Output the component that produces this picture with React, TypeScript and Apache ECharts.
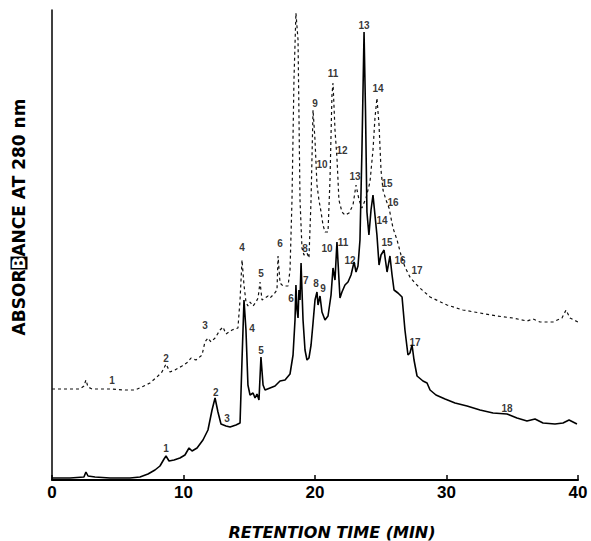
import React, { useEffect, useRef } from "react";
import * as echarts from "echarts";

// Solid trace: [retention time (min), absorbance (arbitrary units)]
const solidTrace: number[][] = [
  [0, 2], [1.37, 2], [2.43, 3], [2.58, 8], [2.74, 4], [3.27, 3], [4.41, 2], [5.93, 2],
  [6.69, 3], [7.3, 6], [7.83, 10], [8.21, 14], [8.52, 21], [8.67, 24], [8.9, 19], [9.28, 20],
  [9.73, 22], [10.11, 25], [10.42, 32], [10.65, 29], [11.03, 32], [11.48, 40], [11.86, 50],
  [12.17, 70], [12.4, 82], [12.62, 68], [12.85, 56], [13.23, 54], [13.54, 53], [13.99, 55],
  [14.3, 57], [14.45, 120], [14.6, 180], [14.75, 150], [14.9, 95], [15.06, 85], [15.29, 87],
  [15.44, 82], [15.59, 86], [15.74, 80], [15.89, 123], [16.05, 95], [16.2, 90], [16.58, 92],
  [16.96, 94], [17.34, 99], [17.72, 100], [18.1, 106], [18.33, 125], [18.48, 160], [18.55, 195],
  [18.63, 170], [18.71, 162], [18.78, 190], [18.86, 180], [18.94, 217], [19.01, 190],
  [19.09, 160], [19.24, 130], [19.39, 120], [19.54, 122], [19.7, 135], [19.85, 157], [20.0, 180],
  [20.15, 188], [20.23, 175], [20.38, 184], [20.53, 168], [20.76, 160], [20.99, 164],
  [21.22, 185], [21.37, 212], [21.52, 200], [21.67, 238], [21.75, 218], [21.9, 182], [22.05, 188],
  [22.28, 195], [22.51, 198], [22.74, 205], [22.97, 218], [23.12, 208], [23.27, 214],
  [23.42, 240], [23.57, 330], [23.73, 448], [23.84, 370], [23.95, 268], [24.1, 245], [24.26, 270],
  [24.41, 285], [24.56, 265], [24.71, 245], [24.87, 215], [25.02, 225], [25.25, 230], [25.48, 208],
  [25.7, 224], [25.86, 205], [26.01, 190], [26.31, 187], [26.62, 183], [26.84, 150], [27.07, 125],
  [27.22, 127], [27.38, 135], [27.53, 120], [27.76, 104], [28.21, 99], [28.52, 97], [28.75, 90],
  [29.2, 85], [29.89, 81], [30.65, 77], [31.56, 74], [32.55, 70], [33.54, 67], [34.6, 66],
  [35.36, 62], [36.12, 59], [36.73, 61], [37.34, 57], [38.25, 56], [38.86, 57], [39.32, 60],
  [39.92, 56],
];

// Dashed trace
const dashedTrace: number[][] = [
  [0, 91], [2.13, 91], [2.43, 94], [2.58, 100], [2.74, 93], [3.04, 91], [4.41, 91], [5.55, 90],
  [6.31, 90], [6.84, 93], [7.45, 97], [7.98, 103], [8.36, 108], [8.67, 116], [8.97, 108],
  [9.35, 110], [9.89, 114], [10.34, 118], [10.57, 122], [10.95, 120], [11.41, 125], [11.63, 138],
  [11.86, 142], [12.09, 138], [12.4, 142], [12.78, 150], [13.0, 153], [13.23, 146], [13.69, 150],
  [14.14, 152], [14.3, 180], [14.45, 220], [14.6, 195], [14.75, 178], [14.9, 174], [15.06, 178],
  [15.29, 174], [15.51, 178], [15.67, 182], [15.82, 198], [15.97, 180], [16.2, 182], [16.43, 184],
  [16.58, 182], [16.88, 186], [17.11, 190], [17.19, 224], [17.34, 197], [17.57, 194], [17.95, 194],
  [18.1, 210], [18.25, 280], [18.4, 400], [18.55, 467], [18.71, 440], [18.86, 280], [19.01, 232],
  [19.16, 225], [19.39, 227], [19.54, 222], [19.7, 280], [19.85, 370], [20.0, 340], [20.15, 295],
  [20.3, 280], [20.46, 268], [20.61, 255], [20.76, 248], [20.99, 248], [21.14, 300], [21.29, 385],
  [21.37, 397], [21.52, 350], [21.67, 322], [21.82, 280], [22.05, 268], [22.28, 265], [22.59, 267],
  [22.89, 275], [23.12, 295], [23.35, 280], [23.57, 272], [23.88, 282], [24.18, 298], [24.41, 330],
  [24.56, 362], [24.71, 382], [24.87, 355], [25.02, 310], [25.17, 290], [25.4, 280], [25.63, 272],
  [25.93, 252], [26.24, 240], [26.54, 225], [26.84, 213], [27.22, 203], [27.6, 197], [27.98, 192],
  [28.75, 183], [30.04, 175], [31.25, 170], [32.55, 167], [33.84, 164], [35.06, 162], [36.12, 159],
  [36.58, 161], [37.11, 158], [38.1, 158], [38.78, 162], [39.09, 170], [39.39, 162], [40, 158],
];

// Peak labels: [time, absorbance, text]
const solidPeakLabels: (number | string)[][] = [
  [8.67, 32, "1"], [12.46, 88, "2"], [13.31, 62, "3"], [15.21, 152, "4"], [15.89, 130, "5"],
  [18.17, 182, "6"], [19.3, 200, "7"], [20.08, 197, "8"], [20.61, 192, "9"], [20.91, 232, "10"],
  [22.13, 238, "11"], [22.66, 220, "12"], [23.73, 455, "13"], [25.1, 260, "14"], [25.48, 238, "15"],
  [26.46, 220, "16"], [27.6, 138, "17"], [34.6, 72, "18"],
];
const dashedPeakLabels: (number | string)[][] = [
  [4.56, 100, "1"], [8.67, 122, "2"], [11.63, 155, "3"], [14.45, 233, "4"], [15.89, 207, "5"],
  [17.34, 237, "6"], [19.24, 232, "8"], [20.0, 377, "9"], [20.53, 316, "10"], [21.37, 407, "11"],
  [22.05, 330, "12"], [23.04, 304, "13"], [24.79, 392, "14"], [25.48, 297, "15"], [25.93, 278, "16"],
  [27.76, 210, "17"],
];

const xTicks = { min: 0, max: 40, interval: 10 };
const xTitle = "RETENTION TIME (MIN)";

export default function App() {
  const ref = useRef<HTMLDivElement>(null);
  useEffect(() => {
    if (!ref.current) return;
    const chart = echarts.init(ref.current, undefined, { renderer: "svg" });
    const labelStyle = {
      show: true,
      position: "inside" as const,
      formatter: (p: any) => p.data[2],
      color: "#000",
      fontSize: 10,
      fontWeight: "bold" as const,
      fontFamily: "Liberation Sans, Arial, sans-serif",
    };
    chart.setOption({
      animation: false,
      backgroundColor: "#fff",
      grid: { left: 52, right: 13, top: 10, bottom: 61 },
      xAxis: {
        type: "value",
        min: xTicks.min,
        max: xTicks.max,
        interval: xTicks.interval,
        axisLine: { show: true, lineStyle: { color: "#000", width: 2 } },
        axisTick: { show: true, inside: true, length: 5, lineStyle: { color: "#000", width: 1.5 } },
        axisLabel: {
          color: "#000",
          fontSize: 17,
          fontWeight: "bold",
          fontFamily: "Liberation Sans, Arial, sans-serif",
          margin: 4,
        },
        splitLine: { show: false },
      },
      yAxis: {
        type: "value",
        min: 0,
        max: 470,
        axisLine: { show: true, lineStyle: { color: "#000", width: 1.5 } },
        axisTick: { show: false },
        axisLabel: { show: false },
        splitLine: { show: false },
      },
      graphic: [
        {
          type: "text",
          x: 332,
          y: 532,
          style: {
            text: xTitle,
            font: "italic bold 16px 'DejaVu Sans', sans-serif",
            fill: "#000",
            align: "center",
            verticalAlign: "middle",
          },
        },
        {
          type: "text",
          x: 19,
          y: 217,
          rotation: Math.PI / 2,
          style: {
            text: "{a|ABSOR}{b|B}{a|ANCE AT 280 nm}",
            align: "center",
            verticalAlign: "middle",
            rich: {
              a: { fontSize: 17, fontWeight: "bold", fontFamily: "DejaVu Sans", fill: "#000", color: "#000" },
              b: {
                fontSize: 17,
                fontWeight: "bold",
                fontFamily: "DejaVu Sans",
                color: "#fff",
                fill: "#fff",
                backgroundColor: "#000",
              },
            },
          },
        },
      ],
      series: [
        {
          type: "line",
          data: dashedTrace,
          showSymbol: false,
          silent: true,
          lineStyle: { color: "#111", width: 1.2, type: [3, 3] },
        },
        {
          type: "line",
          data: solidTrace,
          showSymbol: false,
          silent: true,
          lineStyle: { color: "#000", width: 1.6 },
        },
        {
          type: "scatter",
          data: solidPeakLabels,
          symbolSize: 0,
          silent: true,
          label: labelStyle,
        },
        {
          type: "scatter",
          data: dashedPeakLabels,
          symbolSize: 0,
          silent: true,
          label: labelStyle,
        },
      ],
    });
    return () => chart.dispose();
  }, []);
  return (
    <div
      ref={ref}
      style={{ position: "fixed", left: 0, top: 0, width: 591, height: 541, background: "#fff" }}
    />
  );
}
